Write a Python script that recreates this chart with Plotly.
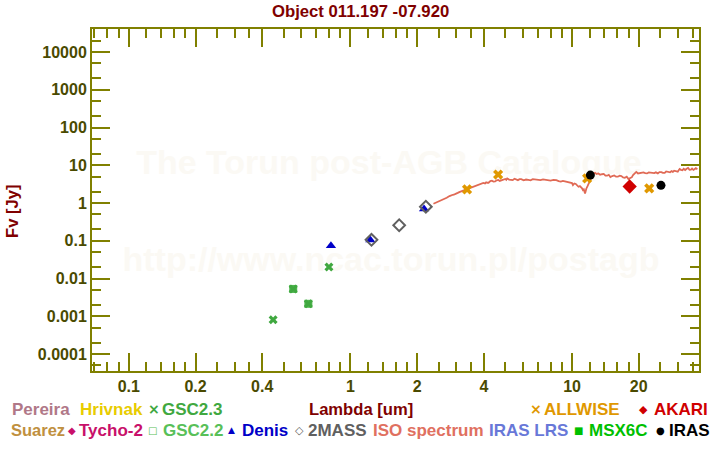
import plotly.graph_objects as go
import math

# ---------------- data ----------------
gsc23_lam = [0.448, 0.552, 0.646, 0.80]
gsc23_f = [0.00081, 0.0053, 0.00214, 0.0202]
gsc22_lam = [0.552, 0.646]
gsc22_f = [0.0053, 0.00214]
denis_lam = [0.817, 1.23, 2.15]
denis_f = [0.074, 0.105, 0.70]
mass_lam = [1.245, 1.66, 2.19]
mass_f = [0.106, 0.258, 0.80]
allwise_lam = [3.36, 4.64, 11.7, 22.3]
allwise_f = [2.3, 5.7, 4.5, 2.45]
akari_lam = [18.2]
akari_f = [2.75]
iras_lam = [12.1, 25.2]
iras_f = [5.5, 2.95]
iso_lam = [2.37, 2.41, 2.45, 2.5, 2.55, 2.6, 2.65, 2.72, 2.8, 2.85, 2.9, 2.95, 3.0,
           3.05, 3.1, 3.15, 3.2, 3.28, 3.35, 3.4, 3.45, 3.5, 3.55, 3.62, 3.7, 3.78,
           3.85, 3.92, 3.98, 4.05, 4.1, 4.15, 4.2, 4.28, 4.35, 4.42, 4.5, 4.57, 4.65,
           4.72, 4.8, 4.9, 5.0, 5.05, 5.1, 5.2, 5.3, 5.4, 5.5, 5.6, 5.7, 5.8, 5.9,
           6.05, 6.2, 6.35, 6.5, 6.65, 6.8, 7.0, 7.2, 7.4, 7.6, 7.8, 8.0, 8.25, 8.5,
           8.7, 8.9, 9.1, 9.3, 9.55, 9.8, 10.0, 10.1, 10.25, 10.4, 10.55, 10.7, 10.85,
           11.0, 11.1, 11.2, 11.3, 11.45, 11.52, 11.6, 11.75, 11.9, 12.05, 12.2, 12.35,
           12.5, 12.7, 12.9, 13.15, 13.4, 13.65, 13.9, 14.15, 14.4, 14.65, 14.9, 15.2,
           15.5, 15.8, 16.1, 16.4, 16.7, 17.0, 17.3, 17.65, 18.0, 18.3, 18.6, 18.85,
           19.1, 19.3, 19.5, 19.85, 20.2, 20.6, 21.0, 21.4, 21.8, 22.2, 22.6, 23.0,
           23.5, 23.9, 24.4, 24.8, 25.3, 25.7, 26.2, 26.6, 27.0, 27.35, 27.7, 28.1,
           28.5, 28.9, 29.3, 29.65, 30.0, 30.3, 30.6, 31.0, 31.5, 31.9, 32.4, 32.9,
           33.4, 33.9, 34.4, 34.8, 35.3, 35.7, 36.2, 36.8, 37.4]
iso_f = [0.96, 1.0, 1.05, 1.1, 1.18, 1.22, 1.32, 1.38, 1.53, 1.56, 1.66, 1.7, 1.82,
         1.86, 1.95, 2.02, 2.1, 2.2, 2.3, 2.36, 2.45, 2.5, 2.62, 2.74, 2.9, 3.0,
         3.15, 3.22, 3.4, 3.3, 3.55, 3.45, 3.45, 3.8, 3.9, 3.7, 3.75, 4.0, 4.1,
         3.85, 3.95, 4.2, 4.35, 4.1, 4.5, 4.2, 4.15, 4.05, 4.4, 4.2, 4.05, 4.3, 4.3,
         4.0, 4.2, 4.1, 4.0, 4.3, 4.25, 4.05, 4.05, 4.25, 4.2, 4.0, 3.95, 4.1, 4.05,
         3.8, 3.7, 3.85, 3.75, 3.55, 3.6, 3.4, 3.0, 3.3, 3.2, 2.85, 2.7, 2.8, 2.6,
         2.45, 2.2, 2.3, 1.8, 2.1, 2.4, 2.8, 3.2, 3.9, 4.6, 5.5, 6.0, 6.3, 5.9, 6.1,
         5.6, 5.8, 5.9, 5.3, 5.3, 5.6, 4.9, 5.2, 5.4, 5.0, 5.0, 5.3, 5.2, 4.8, 4.7,
         5.0, 4.3, 4.6, 4.8, 5.5, 6.0, 6.4, 6.7, 6.1, 6.2, 6.6, 6.5, 6.2, 6.1, 6.5,
         6.4, 6.1, 6.2, 6.5, 6.1, 6.6, 6.6, 6.3, 6.3, 6.9, 6.8, 6.5, 6.5, 7.0, 6.7,
         7.2, 7.1, 6.8, 6.8, 7.4, 8.0, 7.6, 7.4, 8.1, 7.5, 8.1, 8.5, 7.6, 7.7, 8.2,
         7.6, 7.9, 8.4, 7.9]

xtick_vals = [0.1, 0.2, 0.4, 1, 2, 4, 10, 20]
xtick_text = ["0.1", "0.2", "0.4", "1", "2", "4", "10", "20"]
xminor_vals = [0.07, 0.08, 0.09, 0.12, 0.14, 0.16, 0.18, 0.25, 0.3, 0.35,
               0.5, 0.6, 0.7, 0.8, 0.9, 1.2, 1.4, 1.6, 1.8, 2.5, 3, 3.5,
               5, 6, 7, 8, 9, 12, 14, 16, 18, 25, 30, 35]
ytick_vals = [1e-4, 1e-3, 1e-2, 1e-1, 1, 10, 100, 1000, 10000]
ytick_text = ["0.0001", "0.001", "0.01", "0.1", "1", "10", "100", "1000", "10000"]
yminor_vals = [5e-5, 2e-4, 5e-4, 2e-3, 5e-3, 2e-2, 5e-2, 0.2, 0.5, 2, 5,
               20, 50, 200, 500, 2000, 5000, 20000]

# ---------------- layout constants ----------------
W, H = 720, 450
L, R, T, B = 92, 21, 29, 79
XR = [-1.166, 1.573]
YR = [-4.45, 4.612]
AX = "#808000"
TXT = "#4a4a00"
DARKRED = "#800000"
FONT = "Liberation Sans, Arial, sans-serif"
SYMF = "DejaVu Sans, sans-serif"

def px(xp):
    return (xp - L) / (W - L - R)

def py(yp):
    return (H - B - yp) / (H - T - B)

def data_x(xp):
    return 10 ** (XR[0] + px(xp) * (XR[1] - XR[0]))

def data_y(yp):
    return 10 ** (YR[0] + py(yp) * (YR[1] - YR[0]))

fig = go.Figure()

# watermark (beneath the data)
fig.add_trace(go.Scatter(
    x=[data_x(389), data_x(391)], y=[data_y(165), data_y(262)],
    mode="text",
    text=["The Torun post-AGB Catalogue", "http://www.ncac.torun.pl/postagb"],
    textfont=dict(family=FONT, size=34, color="#fbf9f4", weight="bold"),
    hoverinfo="skip", showlegend=False))

fig.add_trace(go.Scatter(x=iso_lam, y=iso_f, mode="lines",
                         line=dict(color="#e06a55", width=1.8), showlegend=False))
fig.add_trace(go.Scatter(x=gsc22_lam, y=gsc22_f, mode="markers",
                         marker=dict(symbol="square", size=8, color="#50b850"),
                         showlegend=False))
fig.add_trace(go.Scatter(x=gsc23_lam, y=gsc23_f, mode="markers",
                         marker=dict(symbol="x", size=8, color="#40a840",
                                     line=dict(width=0)), showlegend=False))
fig.add_trace(go.Scatter(x=denis_lam, y=denis_f, mode="markers",
                         marker=dict(symbol="triangle-up", size=9, color="#0000c8"),
                         showlegend=False))
fig.add_trace(go.Scatter(x=mass_lam, y=mass_f, mode="markers",
                         marker=dict(symbol="diamond-open", size=9, color="#606060",
                                     line=dict(width=2, color="#606060")),
                         showlegend=False))
fig.add_trace(go.Scatter(x=allwise_lam, y=allwise_f, mode="markers",
                         marker=dict(symbol="x", size=9, color="#e09800",
                                     line=dict(width=0)), showlegend=False))
fig.add_trace(go.Scatter(x=akari_lam, y=akari_f, mode="markers",
                         marker=dict(symbol="diamond", size=11, color="#d00000"),
                         showlegend=False))
fig.add_trace(go.Scatter(x=iras_lam, y=iras_f, mode="markers",
                         marker=dict(symbol="circle", size=9, color="#000000"),
                         showlegend=False))

axis_common = dict(
    showline=True, linecolor=AX, linewidth=2, mirror="ticks",
    ticks="inside", ticklen=18, tickwidth=2, tickcolor=AX,
    showgrid=False, zeroline=False,
    tickfont=dict(family=FONT, size=16, color=TXT, weight="bold"),
)

fig.update_layout(
    width=W, height=H,
    margin=dict(l=L, r=R, t=T, b=B),
    paper_bgcolor="white", plot_bgcolor="white",
    showlegend=False,
    xaxis=dict(type="log", range=XR, tickmode="array",
               tickvals=xtick_vals, ticktext=xtick_text,
               minor=dict(tickvals=xminor_vals, ticks="inside", ticklen=9,
                          tickwidth=2, tickcolor=AX),
               **axis_common),
    yaxis=dict(type="log", range=YR, tickmode="array",
               tickvals=ytick_vals, ticktext=ytick_text,
               minor=dict(tickvals=yminor_vals, ticks="inside", ticklen=9,
                          tickwidth=2, tickcolor=AX),
               **axis_common),
)

ann = []

def text(xp, yp, s, color, size=17, family=FONT, anchor="left", angle=0, bold=True):
    ann.append(dict(x=px(xp), y=py(yp), xref="paper", yref="paper",
                    text=s, showarrow=False, xanchor=anchor, yanchor="middle",
                    textangle=angle,
                    font=dict(family=family, size=size, color=color,
                              weight="bold" if bold else "normal")))

# title and axis titles
text(360, 11, "Object 011.197 -07.920", DARKRED, size=16.7, anchor="center")
text(361, 409, "Lambda [um]", DARKRED, size=16.6, anchor="center")
text(12, 212, "Fv [Jy]", DARKRED, size=16.6, anchor="center", angle=-90)

# legend row 1
text(10, 409, "Pereira", "#b07888")
text(78, 409, "Hrivnak", "#e8cc00")
text(146, 409, "×", "#40a840", size=14, family=SYMF)
text(160, 409, "GSC2.3", "#40a840")
text(528, 409, "×", "#e09800", size=14, family=SYMF)
text(542, 409, "ALLWISE", "#e09800")
text(637, 409, "◆", "#d00000", size=11, family=SYMF)
text(652, 409, "AKARI", "#d00000")

# legend row 2
text(9, 430, "Suarez", "#c09040", size=16.5)
text(66, 430, "◆", "#c8106a", size=10, family=SYMF)
text(77, 430, "Tycho-2", "#c8106a")
text(146, 430, "□", "#58c058", size=10, family=SYMF)
text(161, 430, "GSC2.2", "#58c058")
text(226, 430, "▲", "#0000c8", size=9, family=SYMF)
text(240, 430, "Denis", "#0000c8")
text(293, 430, "◇", "#606060", size=11, family=SYMF)
text(306, 430, "2MASS", "#606060")
text(371, 430, "ISO spectrum", "#e07060")
text(487, 430, "IRAS LRS", "#6878d8")
text(572, 430, "■", "#00c000", size=10, family=SYMF)
text(587, 430, "MSX6C", "#00c000")
text(654, 430, "●", "#000000", size=10, family=SYMF)
text(667, 430, "IRAS", "#000000")

fig.update_layout(annotations=ann)

fig.write_html("out.html", config={"displayModeBar": False},
               post_script="document.body.style.margin='0';document.body.style.padding='0';")
